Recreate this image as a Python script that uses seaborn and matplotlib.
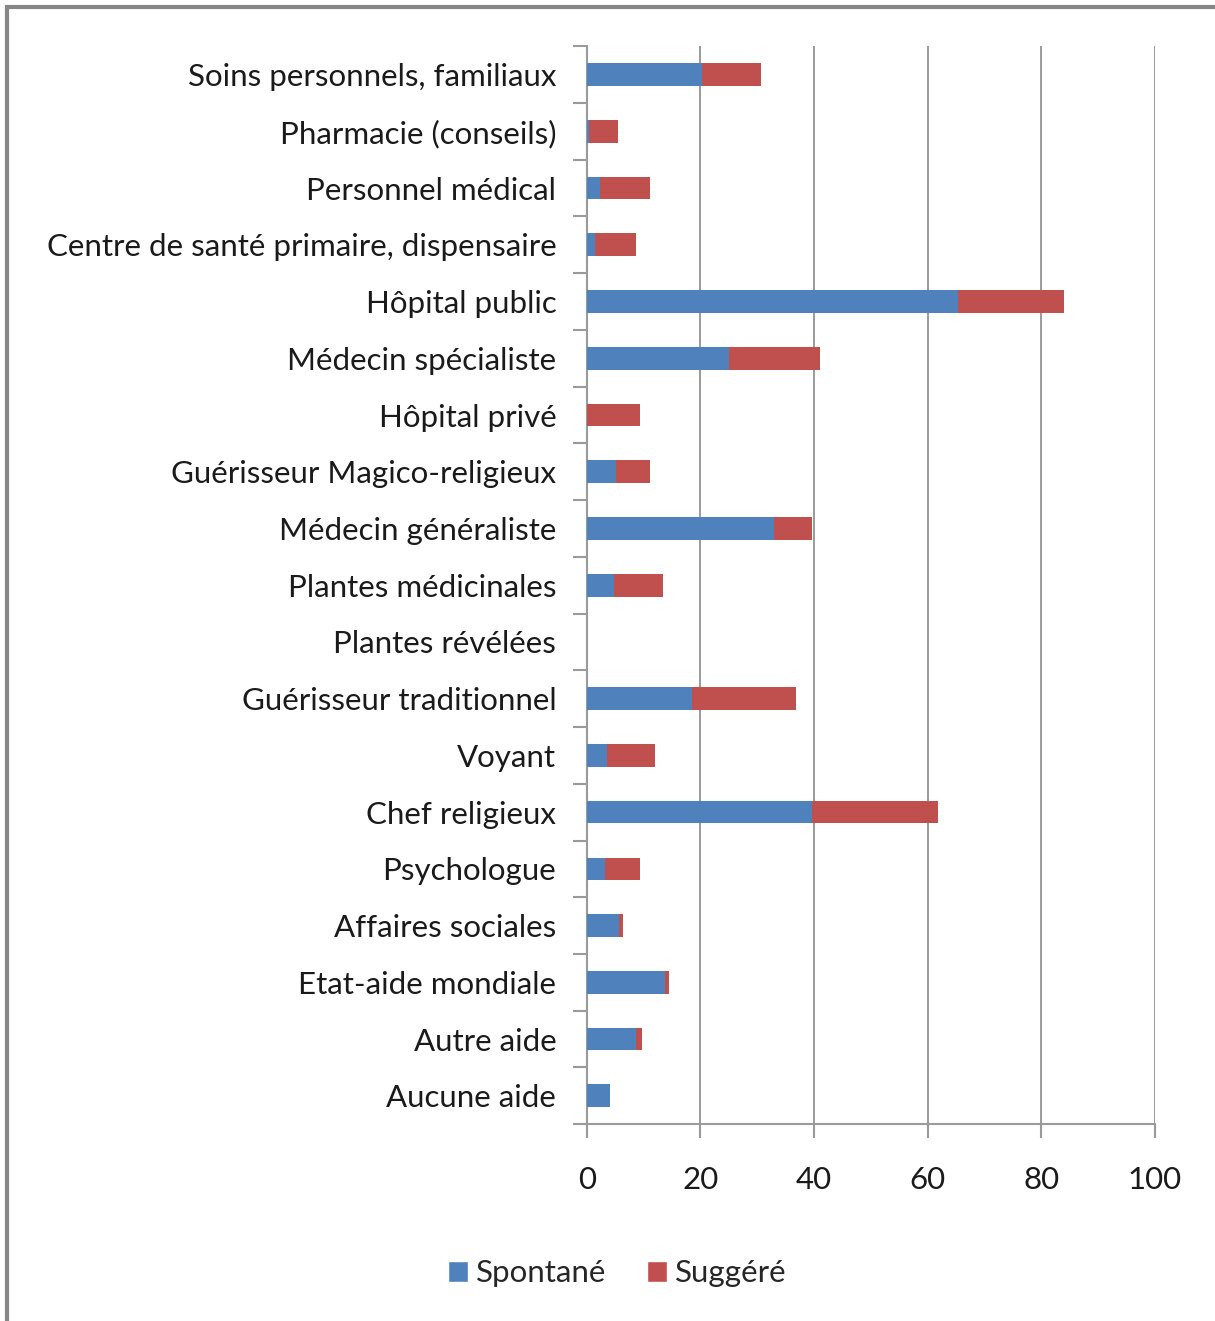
import numpy as np
import pandas as pd
import seaborn as sns
import matplotlib.pyplot as plt
from matplotlib.patches import Patch, Rectangle

categories = [
    "Soins personnels, familiaux",
    "Pharmacie (conseils)",
    "Personnel médical",
    "Centre de santé primaire, dispensaire",
    "Hôpital public",
    "Médecin spécialiste",
    "Hôpital privé",
    "Guérisseur Magico-religieux",
    "Médecin généraliste",
    "Plantes médicinales",
    "Plantes révélées",
    "Guérisseur traditionnel",
    "Voyant",
    "Chef religieux",
    "Psychologue",
    "Affaires sociales",
    "Etat-aide mondiale",
    "Autre aide",
    "Aucune aide",
]
spontane = [20.3, 0.4, 2.4, 1.5, 65.4, 25.0, 0.0, 5.2, 32.9, 4.7, 0.0,
            18.5, 3.5, 39.7, 3.2, 5.7, 13.7, 8.6, 4.0]
suggere = [10.3, 5.0, 8.7, 7.1, 18.6, 16.0, 9.4, 5.9, 6.8, 8.7, 0.0,
           18.3, 8.5, 22.2, 6.2, 0.6, 0.8, 1.1, 0.0]
x_ticks = [0, 20, 40, 60, 80, 100]

BLUE = "#4F81BD"
RED = "#C0504D"
GRID = "#9a9a9a"

df = pd.DataFrame({"cat": categories, "Spontané": spontane, "Suggéré": suggere})
df["total"] = df["Spontané"] + df["Suggéré"]

sns.set_theme(style="white")
plt.rcParams["font.family"] = ["Lato", "DejaVu Sans"]

fig = plt.figure(figsize=(12.15, 13.21), dpi=100)
ax = fig.add_axes([0.483, 0.149, 0.4675, 0.816])

# stacked bars: total in red first, spontaneous part drawn over it in blue
sns.barplot(data=df, y="cat", x="total", color=RED, saturation=1,
            width=0.4, orient="h", ax=ax, zorder=3, linewidth=0)
sns.barplot(data=df, y="cat", x="Spontané", color=BLUE, saturation=1,
            width=0.4, orient="h", ax=ax, zorder=4, linewidth=0)

ax.set_xlim(0, 100)
ax.set_ylim(len(categories) - 0.5, -0.5)
ax.set_xticks(x_ticks)
ax.set_xlabel("")
ax.set_ylabel("")

# vertical gridlines
ax.grid(axis="x", color=GRID, linewidth=1.4, zorder=0)
ax.set_axisbelow(True)

for s in ["top", "right"]:
    ax.spines[s].set_visible(False)
for s in ["left", "bottom"]:
    ax.spines[s].set_color(GRID)
    ax.spines[s].set_linewidth(1.5)

# y ticks at category boundaries, labels at centres
ax.set_yticks(np.arange(len(categories)))
ax.set_yticklabels(categories)
ax.set_yticks(np.arange(-0.5, len(categories), 1), minor=True)
ax.tick_params(axis="y", which="major", length=0, pad=22, labelsize=22.5,
               labelcolor="#1a1a1a")
ax.tick_params(axis="y", which="minor", length=10, width=1.5, color=GRID,
               direction="out", left=True)
ax.tick_params(axis="x", which="major", length=10, width=1.5, color=GRID,
               direction="out", bottom=True, pad=20, labelsize=22.5,
               labelcolor="#1a1a1a")

handles = [Patch(facecolor=BLUE, label="Spontané"),
           Patch(facecolor=RED, label="Suggéré")]
fig.legend(handles=handles, loc="center", bbox_to_anchor=(0.508, 0.036),
           ncol=2, frameon=False, fontsize=22.5, handlelength=0.65,
           handleheight=0.65, handletextpad=0.25, columnspacing=1.3)

# outer frame of the chart area
fig.patches.append(Rectangle((7 / 1215, -0.01), 1.1, 1 - 7 / 1321 + 0.01,
                             transform=fig.transFigure, fill=False,
                             edgecolor="#868686", linewidth=3))

fig.savefig("out.png", dpi=100)
